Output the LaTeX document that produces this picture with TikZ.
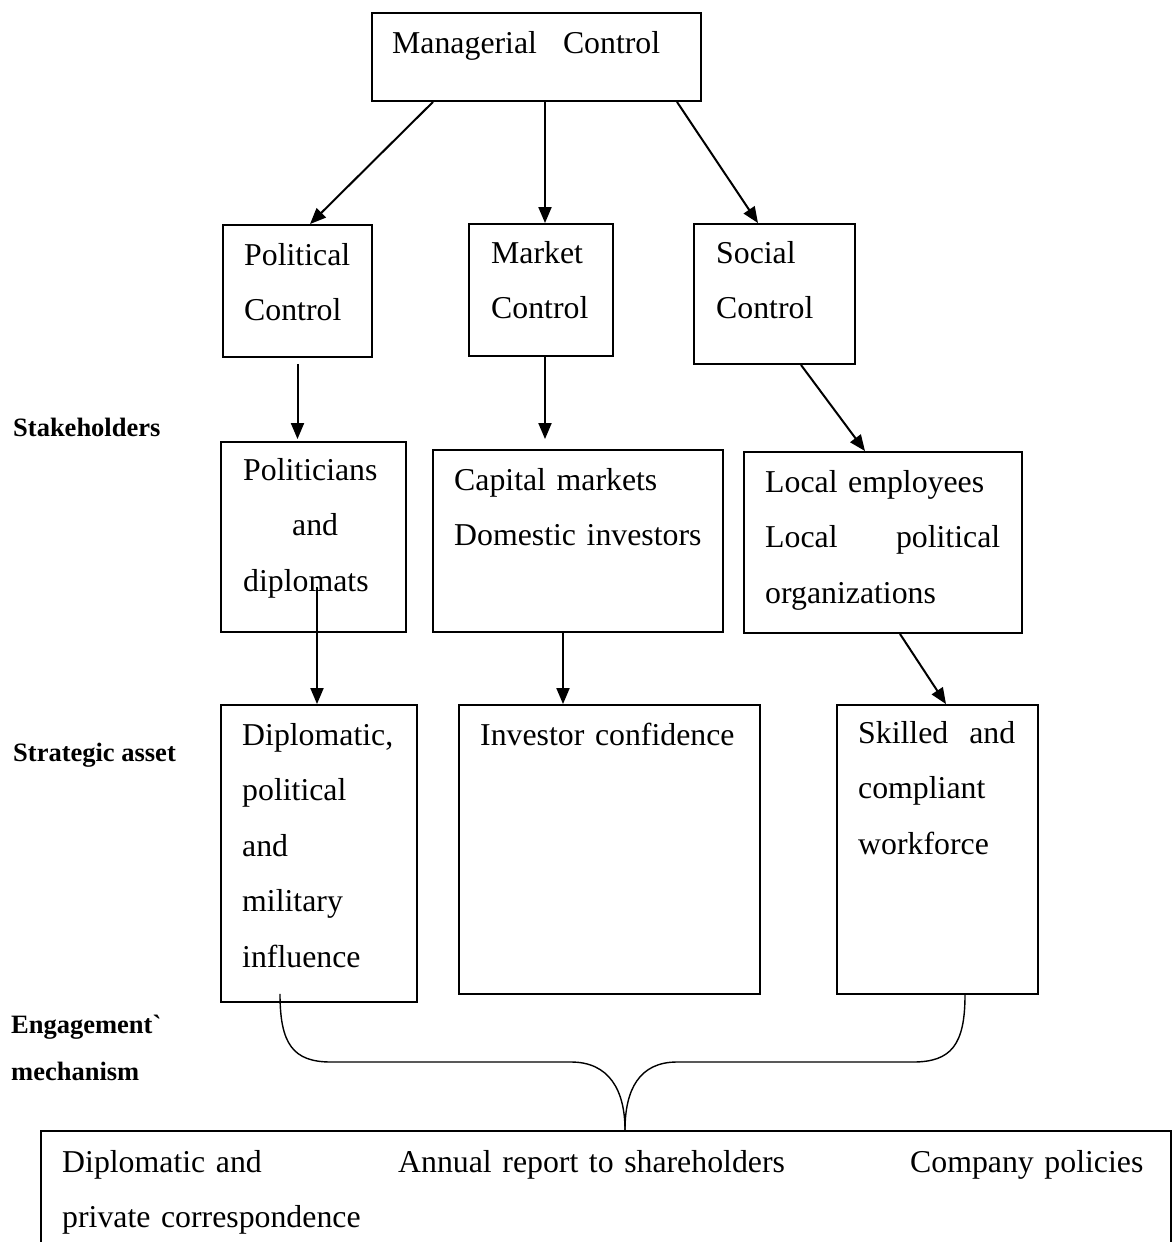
\documentclass[tikz,border=0pt]{standalone}
\usepackage{fontspec}
\setmainfont{Liberation Serif}
\usetikzlibrary{arrows.meta}
\begin{document}
\begin{tikzpicture}
[x=1pt,y=-1pt,
  boxdecorate/.style={shape=rectangle,draw,line width=1.9pt,inner sep=0pt},
  textdecorate/.style={anchor=base west,inner sep=0pt,align=left,text width=#1,
    font=\fontsize{31.8}{55.5}\selectfont},
  textdecorate/.default=400pt,
  labeldecorate/.style={anchor=base west,inner sep=0pt,
    font=\fontsize{26.5}{47}\selectfont\bfseries},
  arrowdecorate/.style={-{Triangle[length=16pt,width=13pt]},line width=2pt},
  bracedecorate/.style={-,line width=1.4pt}]
\useasboundingbox (0,0) rectangle (1173,1242);
% boxes
\node (mc) at (536.5,57) [boxdecorate,minimum width=329pt,minimum height=88pt] {};
\node (pc) at (297.5,291) [boxdecorate,minimum width=149pt,minimum height=132pt] {};
\node (mkc) at (541,290) [boxdecorate,minimum width=144pt,minimum height=132pt] {};
\node (sc) at (774.5,294) [boxdecorate,minimum width=161pt,minimum height=140pt] {};
\node (pol) at (313.5,537) [boxdecorate,minimum width=185pt,minimum height=190pt] {};
\node (cap) at (578,541) [boxdecorate,minimum width=290pt,minimum height=182pt] {};
\node (loc) at (883,542.5) [boxdecorate,minimum width=278pt,minimum height=181pt] {};
\node (dip) at (319,853.5) [boxdecorate,minimum width=196pt,minimum height=297pt] {};
\node (inv) at (609.5,849.5) [boxdecorate,minimum width=301pt,minimum height=289pt] {};
\node (sk) at (937.5,849.5) [boxdecorate,minimum width=201pt,minimum height=289pt] {};
\node (em) at (606,1195) [boxdecorate,minimum width=1130pt,minimum height=128pt] {};
% texts in the boxes
\node (mc-t) at (392,53) [textdecorate] {Managerial\hspace{26pt}Control};
\node (pc-t) at (244,265) [textdecorate] {Political\\Control};
\node (mkc-t) at (491,263) [textdecorate] {Market\\Control};
\node (sc-t) at (716,263) [textdecorate] {Social\\Control};
\node (pol-t) at (243,480) [textdecorate] {Politicians\\\hspace*{49pt}and\\diplomats};
\node (cap-t) at (454,490) [textdecorate] {Capital markets\\Domestic investors};
\node (loc-t) at (765,492) [textdecorate=235pt] {Local employees\\Local\hfill political\\organizations};
\node (dip-t) at (242,745) [textdecorate] {Diplomatic,\\political\\and\\military\\influence};
\node (inv-t) at (480,745) [textdecorate] {Investor confidence};
\node (sk-t) at (858,743) [textdecorate=157pt] {Skilled\hfill and\\compliant\\workforce};
\node (em-a) at (62,1172) [textdecorate] {Diplomatic and\\private correspondence};
\node (em-b) at (398,1172) [textdecorate] {Annual report to shareholders};
\node (em-c) at (910,1172) [textdecorate] {Company policies};
% labels on the left
\node (lab-s) at (13,436) [labeldecorate] {Stakeholders};
\node (lab-a) at (13,761) [labeldecorate] {Strategic asset};
\node (lab-e1) at (11,1033) [labeldecorate] {Engagement\textasciigrave};
\node (lab-e2) at (11,1080) [labeldecorate] {mechanism};
% arrows
\coordinate (mkc-out) at ([xshift=4pt]mkc.south);
\coordinate (cap-out) at ([xshift=-15pt]cap.south);
\coordinate (pol-out) at ([xshift=3.5pt,yshift=-50pt]pol.center);
\draw[arrowdecorate] ([xshift=-103.5pt]mc.south) -- ([xshift=12.5pt]pc.north);
\draw[arrowdecorate] (mkc-out |- mc.south) -- (mkc-out |- mkc.north);
\draw[arrowdecorate] ([xshift=140.5pt]mc.south) -- ([xshift=-16.5pt]sc.north);
\draw[arrowdecorate,shorten <=6pt,shorten >=2pt] (pc.south) -- (pc.south |- pol.north);
\draw[arrowdecorate,shorten >=10pt] (mkc-out) -- (mkc-out |- cap.north);
\draw[arrowdecorate] ([xshift=26.5pt]sc.south) -- ([xshift=-18pt]loc.north);
\draw[arrowdecorate] (pol-out) -- (pol-out |- dip.north);
\draw[arrowdecorate] (cap-out) -- (cap-out |- inv.north);
\draw[arrowdecorate] ([xshift=17pt]loc.south) -- ([xshift=8.5pt]sk.north);
% brace
\coordinate (dip-in) at ([xshift=-39pt,yshift=9pt]dip.south);
\coordinate (sk-out) at ([xshift=27.5pt]sk.south);
\coordinate (tip) at ([xshift=19pt]em.north);
\draw[bracedecorate] (dip-in) .. controls +(0,50) and +(-38,0) .. (331,1062)
  -- (571,1062) .. controls +(38,0) and +(0,-40) .. (tip);
\draw[bracedecorate] (tip) .. controls +(0,-40) and +(-38,0) .. (677,1062)
  -- (913,1062) .. controls +(38,0) and +(0,50) .. (sk-out);
\end{tikzpicture}
\end{document}
